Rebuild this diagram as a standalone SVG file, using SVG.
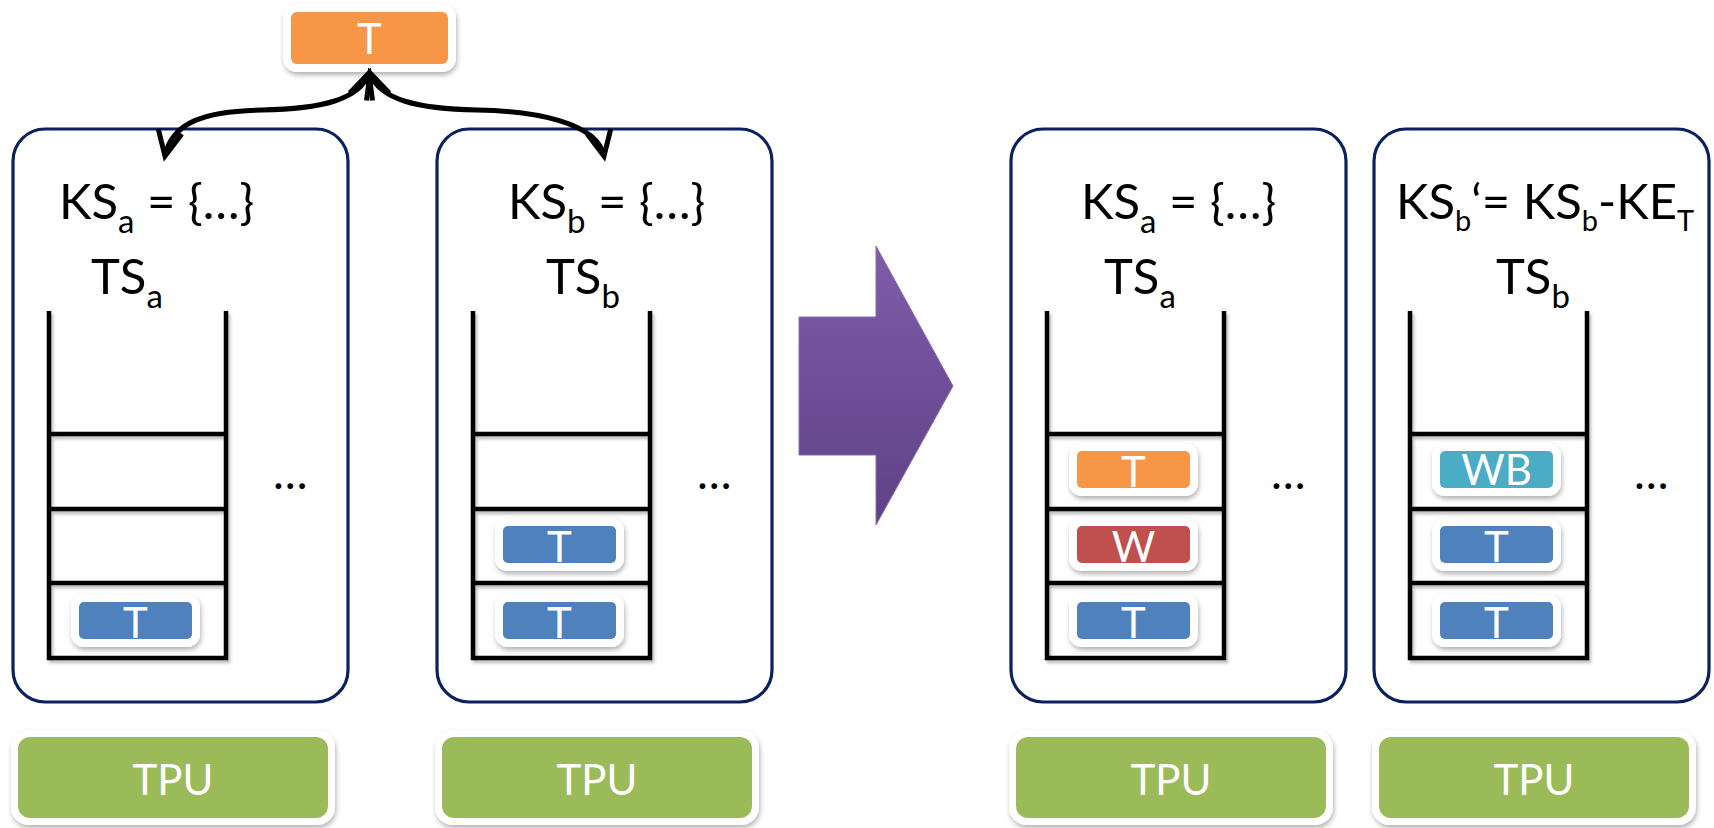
<svg xmlns="http://www.w3.org/2000/svg" width="1714" height="828" viewBox="0 0 1714 828">
  <defs>
    <style>
      .panel { fill: #ffffff; stroke: #0b215f; stroke-width: 3.2; }
      .stack { fill: none; stroke: #000000; stroke-width: 4.5; stroke-linejoin: miter; }
      .frame { fill: #ffffff; filter: url(#softShadow); }
      .lbl { font-family: Lato, "Liberation Sans", sans-serif; font-size: 49px; fill: #000000; }
      .chip-text { font-family: Lato, "Liberation Sans", sans-serif; font-size: 42px; fill: #ffffff; text-anchor: middle; }
      .dots { font-family: Lato, "Liberation Sans", sans-serif; font-size: 46px; fill: #000000; }
      .tok-t { fill: #4f81bd; }
      .tok-new { fill: #f79646; }
      .tok-w { fill: #c0504d; }
      .tok-wb { fill: #4bacc6; }
      .tpu { fill: #9bbb59; }
      .link { fill: none; stroke: #000000; stroke-width: 5; marker-start: url(#openHead); marker-end: url(#openHead); }
    </style>
    <filter id="softShadow" x="-20%" y="-20%" width="140%" height="150%">
      <feDropShadow dx="1" dy="3" stdDeviation="2.5" flood-color="#000000" flood-opacity="0.3"/>
    </filter>
    <filter id="lineShadow" x="-5%" y="-5%" width="110%" height="110%">
      <feDropShadow dx="2" dy="3" stdDeviation="1.5" flood-color="#000000" flood-opacity="0.25"/>
    </filter>
    <linearGradient id="purpleFill" x1="0" y1="0" x2="0" y2="1">
      <stop offset="0" stop-color="#7f5cab"/>
      <stop offset="1" stop-color="#5e4284"/>
    </linearGradient>
    <marker id="openHead" markerUnits="userSpaceOnUse" viewBox="-30 -16 34 32" refX="0" refY="0" markerWidth="34" markerHeight="32" orient="auto-start-reverse" overflow="visible">
      <path d="M -25,-12 L 0,0 L -25,12" fill="none" stroke="#000000" stroke-width="5" stroke-linejoin="miter"/>
    </marker>
  </defs>

  <rect width="1714" height="828" fill="#ffffff"/>

  <!-- panels: key set + thread stack -->
  <g id="panel-a">
    <rect class="panel" x="13" y="129" width="335" height="573" rx="32"/>
    <text class="lbl" x="59" y="219">KS<tspan font-size="33" dy="14">a</tspan><tspan dy="-14"> = {…}</tspan></text>
    <text class="lbl" x="91" y="294">TS<tspan font-size="33" dy="14">a</tspan></text>
    <g filter="url(#lineShadow)">
      <path class="stack" d="M49,311 V658 H226 V311 M49,434 H226 M49,509 H226 M49,583 H226"/>
    </g>
    <rect class="frame" x="71" y="594" width="129" height="53" rx="13"/>
    <rect class="tok-t" x="79" y="602" width="113" height="37" rx="5"/>
    <text class="chip-text" x="135.5" y="638">T</text>
    <text class="dots" x="273" y="489">…</text>
  </g>

  <g id="panel-b">
    <rect class="panel" x="437" y="129" width="335" height="573" rx="32"/>
    <text class="lbl" x="508" y="219">KS<tspan font-size="33" dy="14">b</tspan><tspan dy="-14"> = {…}</tspan></text>
    <text class="lbl" x="546" y="294">TS<tspan font-size="33" dy="14">b</tspan></text>
    <g filter="url(#lineShadow)">
      <path class="stack" d="M473,311 V658 H650 V311 M473,434 H650 M473,509 H650 M473,583 H650"/>
    </g>
    <rect class="frame" x="495" y="518" width="129" height="53" rx="13"/>
    <rect class="tok-t" x="503" y="526" width="113" height="37" rx="5"/>
    <text class="chip-text" x="559.5" y="562">T</text>
    <rect class="frame" x="495" y="594" width="129" height="53" rx="13"/>
    <rect class="tok-t" x="503" y="602" width="113" height="37" rx="5"/>
    <text class="chip-text" x="559.5" y="638">T</text>
    <text class="dots" x="697" y="489">…</text>
  </g>

  <g id="panel-a-after">
    <rect class="panel" x="1011" y="129" width="335" height="573" rx="32"/>
    <text class="lbl" x="1081" y="219">KS<tspan font-size="33" dy="14">a</tspan><tspan dy="-14"> = {…}</tspan></text>
    <text class="lbl" x="1104" y="294">TS<tspan font-size="33" dy="14">a</tspan></text>
    <g filter="url(#lineShadow)">
      <path class="stack" d="M1047,311 V658 H1224 V311 M1047,434 H1224 M1047,509 H1224 M1047,583 H1224"/>
    </g>
    <rect class="frame" x="1069" y="443" width="129" height="53" rx="13"/>
    <rect class="tok-new" x="1077" y="451" width="113" height="37" rx="5"/>
    <text class="chip-text" x="1133.5" y="487">T</text>
    <rect class="frame" x="1069" y="518" width="129" height="53" rx="13"/>
    <rect class="tok-w" x="1077" y="526" width="113" height="37" rx="5"/>
    <text class="chip-text" x="1133.5" y="562">W</text>
    <rect class="frame" x="1069" y="594" width="129" height="53" rx="13"/>
    <rect class="tok-t" x="1077" y="602" width="113" height="37" rx="5"/>
    <text class="chip-text" x="1133.5" y="638">T</text>
    <text class="dots" x="1271" y="489">…</text>
  </g>

  <g id="panel-b-after">
    <rect class="panel" x="1374" y="129" width="335" height="573" rx="32"/>
    <text class="lbl" x="1396" y="219" font-size="42">KS<tspan font-size="29" dy="12">b</tspan><tspan dy="-12">‘= KS</tspan><tspan font-size="29" dy="12">b</tspan><tspan dy="-12">-KE</tspan><tspan font-size="29" dy="12">T</tspan></text>
    <text class="lbl" x="1496" y="294">TS<tspan font-size="33" dy="14">b</tspan></text>
    <g filter="url(#lineShadow)">
      <path class="stack" d="M1410,311 V658 H1587 V311 M1410,434 H1587 M1410,509 H1587 M1410,583 H1587"/>
    </g>
    <rect class="frame" x="1432" y="443" width="129" height="53" rx="13"/>
    <rect class="tok-wb" x="1440" y="451" width="113" height="37" rx="5"/>
    <text class="chip-text" x="1496.5" y="485">WB</text>
    <rect class="frame" x="1432" y="518" width="129" height="53" rx="13"/>
    <rect class="tok-t" x="1440" y="526" width="113" height="37" rx="5"/>
    <text class="chip-text" x="1496.5" y="562">T</text>
    <rect class="frame" x="1432" y="594" width="129" height="53" rx="13"/>
    <rect class="tok-t" x="1440" y="602" width="113" height="37" rx="5"/>
    <text class="chip-text" x="1496.5" y="638">T</text>
    <text class="dots" x="1634" y="489">…</text>
  </g>

  <!-- processing units -->
  <g id="tpu-1">
    <rect class="frame" x="11" y="730" width="324" height="95" rx="18"/>
    <rect class="tpu" x="18" y="737" width="310" height="81" rx="12"/>
    <text class="chip-text" x="173" y="795">TPU</text>
  </g>
  <g id="tpu-2">
    <rect class="frame" x="435" y="730" width="324" height="95" rx="18"/>
    <rect class="tpu" x="442" y="737" width="310" height="81" rx="12"/>
    <text class="chip-text" x="597" y="795">TPU</text>
  </g>
  <g id="tpu-3">
    <rect class="frame" x="1009" y="730" width="324" height="95" rx="18"/>
    <rect class="tpu" x="1016" y="737" width="310" height="81" rx="12"/>
    <text class="chip-text" x="1171" y="795">TPU</text>
  </g>
  <g id="tpu-4">
    <rect class="frame" x="1372" y="730" width="324" height="95" rx="18"/>
    <rect class="tpu" x="1379" y="737" width="310" height="81" rx="12"/>
    <text class="chip-text" x="1534" y="795">TPU</text>
  </g>

  <!-- migrating thread -->
  <g id="token-top">
    <rect class="frame" x="283" y="4" width="173" height="68" rx="14"/>
    <rect class="tok-new" x="291" y="12" width="157" height="52" rx="6"/>
    <text class="chip-text" x="369.5" y="54">T</text>
  </g>

  <!-- before / after transition -->
  <g id="transition-arrow">
    <polygon points="799,317 876,317 876,246 953,386 876,525 876,455 799,455" fill="url(#purpleFill)" stroke="#8a6bb5" stroke-width="1"/>
  </g>

  <!-- connectors between the thread and the two key sets -->
  <g id="connectors">
    <path class="link" d="M369,73 C360,100 320,109 262,110 C205,111 172,122 165,156"/>
    <path class="link" d="M370,73 C379,100 419,109 477,110 C534,111 597,122 604,156"/>
  </g>
</svg>
